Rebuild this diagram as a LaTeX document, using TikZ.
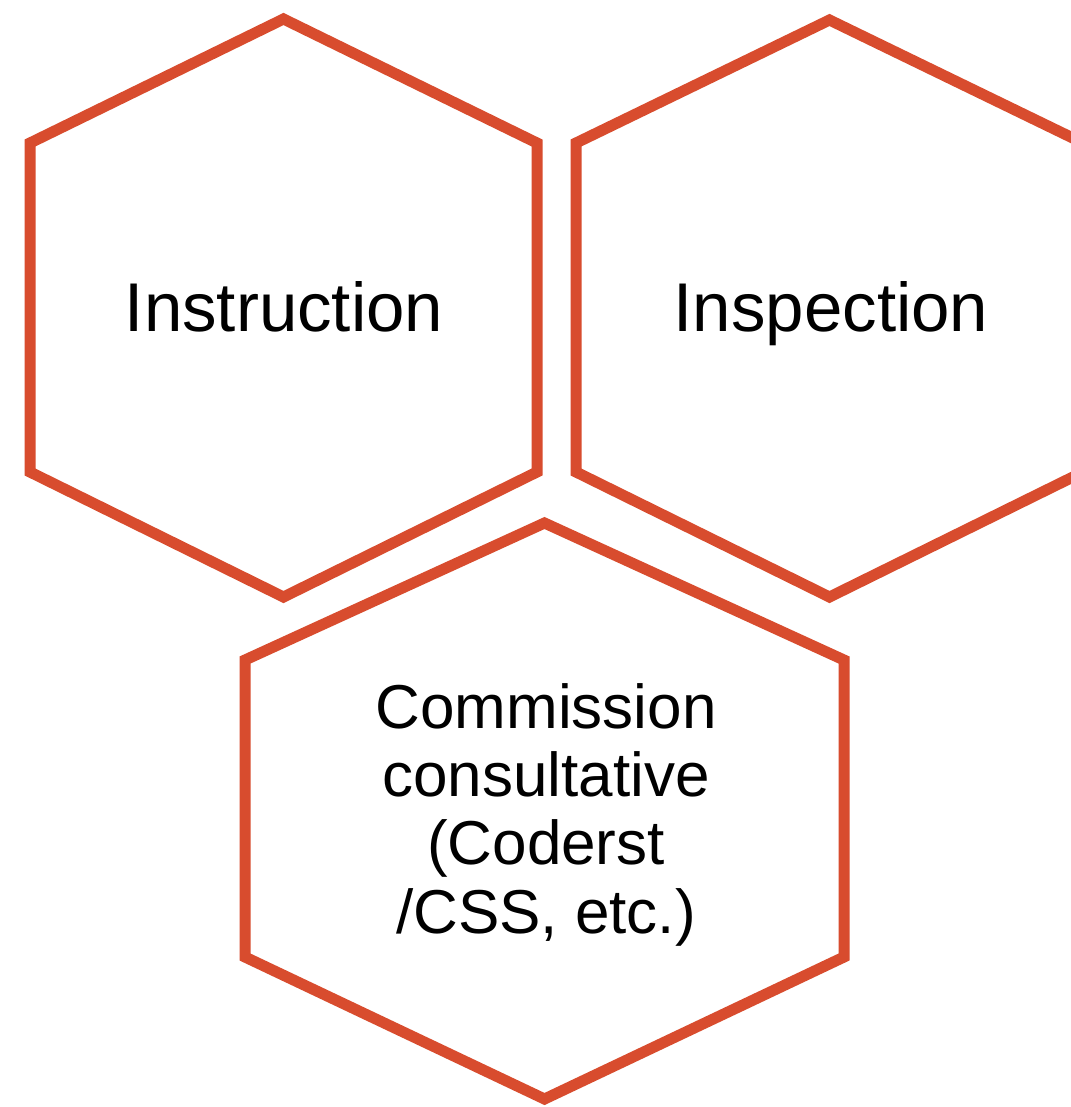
\documentclass[tikz,border=0pt]{standalone}
\usepackage{fontspec}
\setmainfont{Liberation Sans}
\definecolor{hexred}{RGB}{216,76,46}
\begin{document}
\begin{tikzpicture}[x=1pt,y=-1pt,
  hexline/.style={draw=hexred,line width=11pt,line join=miter},
  bigtext/.style={font=\fontsize{69}{80}\selectfont,inner sep=0pt,anchor=base},
  smalltext/.style={font=\fontsize{62}{68.3}\selectfont,inner sep=0pt,align=center}]
\useasboundingbox[fill=white] (0,0) rectangle (1070,1107);
% hexagon 1
\draw[hexline] (283.5,19) -- (537,143) -- (537,472) -- (283.5,597) -- (30,472) -- (30,143) -- cycle;
% hexagon 2
\draw[hexline] (829.5,20) -- (1083,143) -- (1083,472) -- (829.5,597) -- (576,472) -- (576,143) -- cycle;
% hexagon 3
\draw[hexline] (544.5,523) -- (844,660) -- (844,957) -- (544.5,1099) -- (245,957) -- (245,660) -- cycle;
\node[bigtext] (instr) at (284,331) {Instruction};
\node[bigtext] (insp) at (831,331) {Inspection};
\node[smalltext] (comm) at (546,814.5) {Commission\\consultative\\(Coderst\\/CSS, etc.)};
\end{tikzpicture}
\end{document}
